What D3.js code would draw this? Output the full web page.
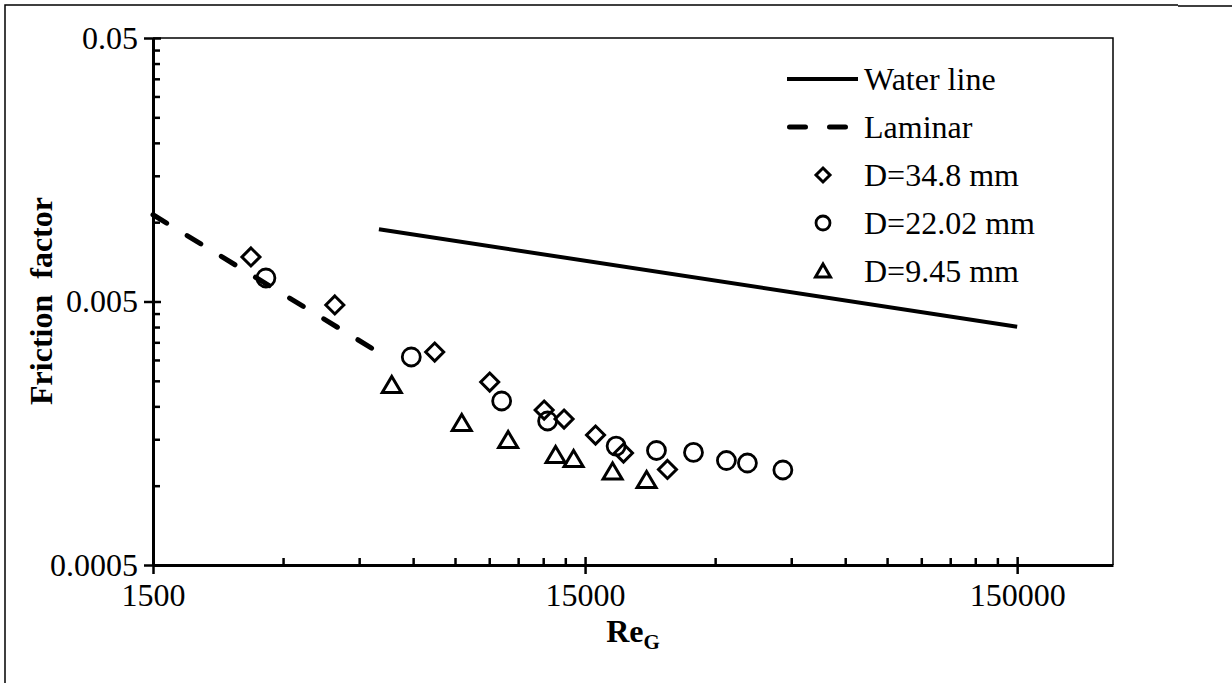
<!DOCTYPE html>
<html>
<head>
<meta charset="utf-8">
<script src="https://cdn.jsdelivr.net/npm/d3@7"></script>
<style>
  body { margin: 0; background: #fff; }
  svg text { font-family: "Liberation Serif", "Times New Roman", serif; fill: #000; }
</style>
</head>
<body>
<svg id="chart" width="1232" height="683"></svg>
<script>
// axis ticks
let xMajor = [1500, 15000, 150000];
let yMajor = [0.0005, 0.005, 0.05];

// Water line and laminar line (end points)
let waterRe = [5000, 150000];
let waterF = [0.0094, 0.00401];
let laminarRe = [1500, 5000];
let laminarF = [0.01067, 0.0032];

// D=34.8 mm
let d348Re = [2528, 3953, 6731, 9024, 12060, 13410, 15860, 18410, 23270];
let d348F = [0.00738, 0.00485, 0.003215, 0.002474, 0.001937, 0.00179, 0.001557, 0.00133, 0.001152];

// D=22.02 mm
let d2202Re = [2738, 5941, 9617, 12285, 17700, 21945, 26730, 31860, 35630, 43040];
let d2202F = [0.00614, 0.003079, 0.002096, 0.00176, 0.001414, 0.00136, 0.001337, 0.001246, 0.001219, 0.001147];

// D=9.45 mm
let d945Re = [5354, 7774, 9955, 12820, 14110, 17370, 20820];
let d945F = [0.00241, 0.001729, 0.00149, 0.001308, 0.001263, 0.001132, 0.001051];

let serif = 'Liberation Serif';
let fontSize = 32;

let svg = d3.select('#chart');
svg.append('rect').attr('width', 1232).attr('height', 683).attr('fill', '#fff');

// outer frame of the picture
svg.append('path')
    .attr('d', 'M5,683 L5,5 L1178,5 M1178,6 L1232,6')
    .attr('fill', 'none').attr('stroke', '#000').attr('stroke-width', 1.5);

let plotLeft = 153, plotRight = 1113, plotTop = 38, plotBottom = 565;

let x = d3.scaleLog().domain([1500, 250000]).range([plotLeft, plotRight]);
let y = d3.scaleLog().domain([0.0005, 0.05]).range([plotBottom, plotTop]);

// minor ticks (Excel style: multiples of each decade start)
let xMinor = [];
[1500, 15000].forEach(function (b) {
    for (let k = 2; k <= 9; k++) xMinor.push(b * k);
});
let yMinor = [];
[0.0005, 0.005].forEach(function (b) {
    for (let k = 2; k <= 9; k++) yMinor.push(b * k);
});

// plot frame (top and right)
svg.append('path')
    .attr('d', 'M' + plotLeft + ',' + plotTop + ' L' + plotRight + ',' + plotTop + ' L' + plotRight + ',' + plotBottom)
    .attr('fill', 'none').attr('stroke', '#000').attr('stroke-width', 1.5);

// x axis
let gx = svg.append('g').attr('transform', 'translate(0,' + plotBottom + ')');
gx.call(d3.axisBottom(x).tickValues(xMinor).tickSize(-7).tickFormat(''));
gx.select('.domain').remove();
let gx2 = svg.append('g').attr('transform', 'translate(0,' + plotBottom + ')');
gx2.call(d3.axisBottom(x).tickValues(xMajor).tickSize(9).tickPadding(9).tickFormat(d3.format('d')).tickSizeOuter(0));
gx2.selectAll('.tick line').attr('y1', -8);
gx.selectAll('line').attr('stroke', '#000').attr('stroke-width', 2.5);
gx2.selectAll('line').attr('stroke', '#000').attr('stroke-width', 2.5);
gx2.select('.domain').attr('stroke', '#000').attr('stroke-width', 3);
gx2.attr('font-family', serif).attr('font-size', fontSize);
gx2.selectAll('text').attr('fill', '#000');

// y axis
let gy = svg.append('g').attr('transform', 'translate(' + plotLeft + ',0)');
gy.call(d3.axisLeft(y).tickValues(yMinor).tickSize(-7).tickFormat(''));
gy.select('.domain').remove();
let gy2 = svg.append('g').attr('transform', 'translate(' + plotLeft + ',0)');
gy2.call(d3.axisLeft(y).tickValues(yMajor).tickSize(9).tickPadding(6).tickFormat(function (d) { return String(d); }).tickSizeOuter(0));
gy2.selectAll('.tick line').attr('x1', 8);
gy.selectAll('line').attr('stroke', '#000').attr('stroke-width', 2.5);
gy2.selectAll('line').attr('stroke', '#000').attr('stroke-width', 2.5);
gy2.select('.domain').attr('stroke', '#000').attr('stroke-width', 3);
gy2.attr('font-family', serif).attr('font-size', fontSize);
gy2.selectAll('text').attr('fill', '#000');

// lines
let line = d3.line().x(function (d) { return x(d[0]); }).y(function (d) { return y(d[1]); });
svg.append('path')
    .datum(d3.zip(waterRe, waterF))
    .attr('d', line)
    .attr('fill', 'none').attr('stroke', '#000').attr('stroke-width', 4);
svg.append('path')
    .datum(d3.zip(laminarRe, laminarF))
    .attr('d', line)
    .attr('fill', 'none').attr('stroke', '#000').attr('stroke-width', 5)
    .attr('stroke-linecap', 'round').attr('stroke-dasharray', '16,24');

// marker shapes
let diamond = 'M0,-9 L9,0 L0,9 L-9,0Z';
let triangle = 'M0,-8.5 L9.5,7.5 L-9.5,7.5Z';

function drawPoints(re, f, shape) {
    let pts = d3.zip(re, f);
    let sel = svg.append('g').selectAll('.pt').data(pts).enter();
    if (shape === 'circle') {
        sel.append('circle')
            .attr('cx', function (d) { return x(d[0]); })
            .attr('cy', function (d) { return y(d[1]); })
            .attr('r', 9)
            .attr('fill', 'none').attr('stroke', '#000').attr('stroke-width', 2.8);
    } else {
        sel.append('path')
            .attr('d', shape)
            .attr('transform', function (d) { return 'translate(' + x(d[0]) + ',' + y(d[1]) + ')'; })
            .attr('fill', 'none').attr('stroke', '#000').attr('stroke-width', 3);
    }
}
drawPoints(d348Re, d348F, diamond);
drawPoints(d2202Re, d2202F, 'circle');
drawPoints(d945Re, d945F, triangle);

// axis titles
svg.append('text')
    .attr('x', 633).attr('y', 642)
    .attr('text-anchor', 'middle')
    .attr('font-family', serif)
    .attr('font-size', fontSize).attr('font-weight', 'bold')
    .text('Re')
    .append('tspan').attr('font-size', 21).attr('dy', 7).text('G');

svg.append('text')
    .attr('transform', 'translate(52,301) rotate(-90)')
    .attr('text-anchor', 'middle')
    .attr('font-family', serif)
    .attr('font-size', fontSize).attr('font-weight', 'bold')
    .style('white-space', 'pre')
    .text('Friction  factor');

// legend
let legendItems = [
    {label: 'Water line', type: 'solid'},
    {label: 'Laminar', type: 'dash'},
    {label: 'D=34.8 mm', type: 'diamond'},
    {label: 'D=22.02 mm', type: 'circle'},
    {label: 'D=9.45 mm', type: 'triangle'}
];
let lg = svg.append('g').attr('font-family', serif);
legendItems.forEach(function (it, i) {
    let cy = 79 + i * 48;
    if (it.type === 'solid') {
        lg.append('line').attr('x1', 787).attr('x2', 858).attr('y1', cy).attr('y2', cy)
            .attr('stroke', '#000').attr('stroke-width', 4);
    } else if (it.type === 'dash') {
        lg.append('line').attr('x1', 789.5).attr('x2', 858).attr('y1', cy).attr('y2', cy)
            .attr('stroke', '#000').attr('stroke-width', 5)
            .attr('stroke-linecap', 'round').attr('stroke-dasharray', '16,24');
    } else if (it.type === 'circle') {
        lg.append('circle').attr('cx', 823).attr('cy', cy).attr('r', 7)
            .attr('fill', 'none').attr('stroke', '#000').attr('stroke-width', 2.8);
    } else {
        lg.append('path').attr('d', it.type === 'diamond' ? 'M0,-7 L7,0 L0,7 L-7,0Z' : 'M0,-7 L7.5,6 L-7.5,6Z')
            .attr('transform', 'translate(823,' + cy + ')')
            .attr('fill', 'none').attr('stroke', '#000').attr('stroke-width', 3);
    }
    lg.append('text').attr('x', 864).attr('y', cy + 11)
        .attr('font-size', fontSize).text(it.label);
});
</script>
</body>
</html>
